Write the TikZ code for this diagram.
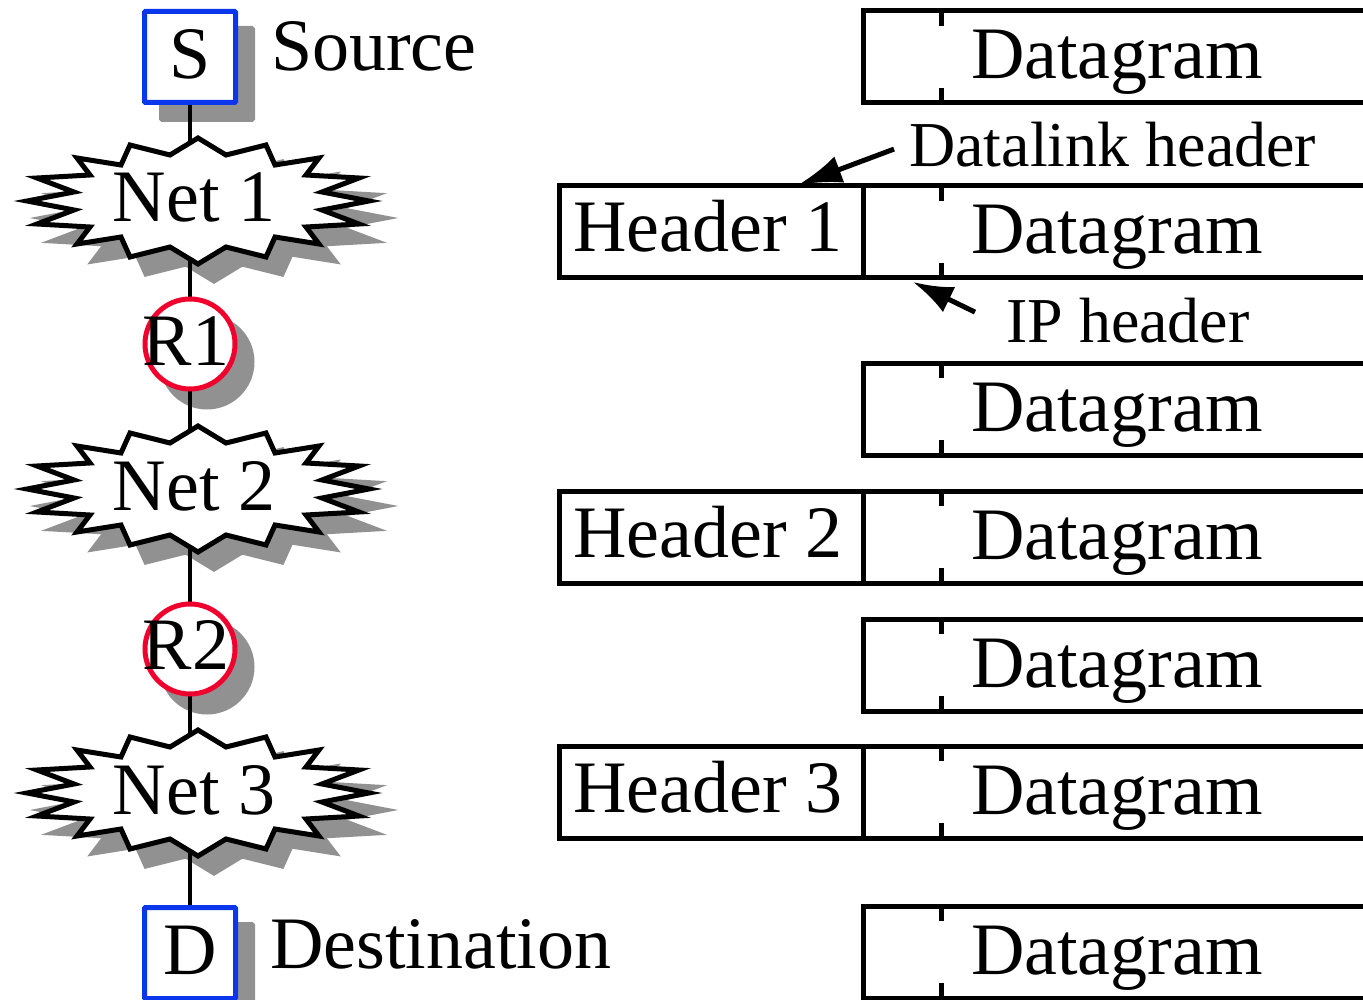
\documentclass[tikz,border=0pt]{standalone}
\usepackage{fontspec}
\setmainfont{Liberation Serif}
\usetikzlibrary{arrows.meta,calc}
\pgfdeclarelayer{shadowlayer}
\pgfdeclarelayer{linelayer}
\pgfsetlayers{shadowlayer,linelayer,main}
\definecolor{boxblue}{RGB}{10,55,235}
\definecolor{routerred}{RGB}{240,0,45}
\definecolor{shadowgray}{RGB}{145,145,145}
\tikzset{
  big/.style={font=\fontsize{74pt}{80pt}\selectfont, inner sep=0pt},
  lbl/.style={font=\fontsize{64pt}{68pt}\selectfont, inner ysep=0pt},
  hostbox/.style={draw=boxblue, fill=white, line width=5pt, minimum size=91pt, inner sep=0pt, outer sep=0pt, rounded corners=1pt},
  router/.style={circle, draw=routerred, fill=white, line width=5pt, minimum size=90pt, inner sep=0pt, outer sep=0pt},
  shade/.style={fill=shadowgray, draw=shadowgray},
  wire/.style={line width=4.5pt},
  frame/.style={draw, line width=5pt, line join=miter, outer sep=0pt, inner sep=0pt},
  starline/.style={draw=black, fill=white, line width=5pt, line join=miter, miter limit=20},
  arr/.style={line width=5pt, -{Latex[length=44pt,width=28pt]}},
  arrsmall/.style={line width=5pt, -{Latex[length=40pt,width=28pt]}},
}
\newcommand\drawstar[2]{%
  \path[#1, shift={(#2)}] (0,-63) -- (28,-46) -- (68,-56) -- (77,-36) -- (121,-43) -- (108,-26)
    -- (161,-23) -- (124,-9) -- (171,0) -- (124,9) -- (161,23) -- (108,26) -- (121,43)
    -- (77,36) -- (68,56) -- (28,46) -- (0,63) -- (-28,46) -- (-68,56) -- (-77,36)
    -- (-121,43) -- (-108,26) -- (-161,23) -- (-124,9) -- (-171,0) -- (-124,-9)
    -- (-161,-23) -- (-108,-26) -- (-121,-43) -- (-77,-36) -- (-68,-56) -- (-28,-46) -- cycle;}
\newcommand\dgrow[2]{%
  \node[frame, anchor=north west, minimum width=700pt, minimum height=92pt] (#1) at (863,#2) {};
  \draw[line width=5pt] ($(#1.north west)+(78,0)$) -- ++(0,15);
  \draw[line width=5pt] ($(#1.south west)+(78,0)$) -- ++(0,-15);
  \node[big, anchor=base] (#1t) at ($(#1.north west)+(254,68)$) {Datagram};}
\newcommand\hdrbox[3]{%
  \node[frame, anchor=north east, minimum width=304pt, minimum height=92pt] (#1) at (863,#2) {};
  \node[big, anchor=base] (#1t) at ($(#1.north west)+(149,66)$) {#3};}
\begin{document}
\begin{tikzpicture}[x=1pt,y=-1pt]
\path[use as bounding box] (0,0) rectangle (1363,1000);
\clip (0,0) rectangle (1363,1000);

% left column: hosts, networks, routers
\node[hostbox] (S) at (190,57) {};
\node[hostbox] (D) at (190,953) {};
\coordinate (N1) at (198,201);
\coordinate (N2) at (198,489);
\coordinate (N3) at (198,793);
\node[router] (R1) at (190,344) {};
\node[router] (R2) at (190,649) {};

\begin{pgfonlayer}{shadowlayer}
  \node[hostbox, shade] (Ssh) at ($(S)+(17,17)$) {};
  \node[hostbox, shade] (Dsh) at ($(D)+(17,17)$) {};
  \node[router, shade] (R1sh) at ($(R1)+(17,18)$) {};
  \node[router, shade] (R2sh) at ($(R2)+(17,18)$) {};
  \drawstar{shade, line width=5pt, line join=miter, miter limit=20}{$(N1)+(16,17)$}
  \drawstar{shade, line width=5pt, line join=miter, miter limit=20}{$(N2)+(16,17)$}
  \drawstar{shade, line width=5pt, line join=miter, miter limit=20}{$(N3)+(16,17)$}
\end{pgfonlayer}

\begin{pgfonlayer}{linelayer}
  \draw[wire] (S.south) -- (D.north);
\end{pgfonlayer}

\drawstar{starline}{N1}
\drawstar{starline}{N2}
\drawstar{starline}{N3}

\node[big, anchor=base] (St) at (190,79) {S};
\node[big, anchor=base] (Dt) at (190,974) {D};
\node[big, anchor=base west] (src) at (271,71) {Source};
\node[big, anchor=base west] (dst) at (270,968) {Destination};
\node[big, anchor=base] (N1t) at ($(N1)+(-4,21)$) {Net 1};
\node[big, anchor=base] (N2t) at ($(N2)+(-4,21)$) {Net 2};
\node[big, anchor=base] (N3t) at ($(N3)+(-4,21)$) {Net 3};
\node[big, anchor=base] (R1t) at ($(R1)+(-4,21)$) {R1};
\node[big, anchor=base] (R2t) at ($(R2)+(-4,20)$) {R2};

% right column: frames
\dgrow{dg1}{11}
\dgrow{dg2}{186}
\dgrow{dg3}{363}
\dgrow{dg4}{491}
\dgrow{dg5}{619}
\dgrow{dg6}{746}
\dgrow{dg7}{906}
\hdrbox{h1}{186}{Header 1}
\hdrbox{h2}{491}{Header 2}
\hdrbox{h3}{746}{Header 3}

% labels and arrows
\node[lbl, anchor=base west, inner xsep=15pt] (dl) at (894,167) {Datalink header};
\coordinate (dltip) at (798,185);
\draw[arr] ([yshift=-4pt]dl.west) -- (dltip);
\node[lbl, anchor=base west, inner xsep=31pt] (ip) at (975,343) {IP header};
\coordinate (iptip) at (913,282);
\draw[arrsmall] ([yshift=9pt]ip.west) -- (iptip);
\end{tikzpicture}
\end{document}
